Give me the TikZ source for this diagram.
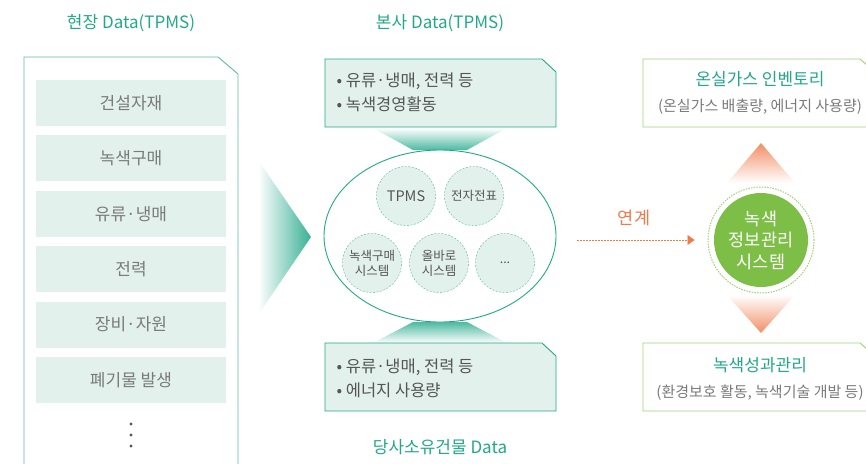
\documentclass[tikz,border=0pt]{standalone}
\usepackage{fontspec}
\setmainfont{Noto Sans CJK KR}
\usetikzlibrary{shapes,shapes.geometric,calc,positioning,arrows.meta}
\definecolor{tealc}{HTML}{22A889}
\definecolor{pale}{HTML}{E3F1EC}
\definecolor{greyt}{HTML}{7A7A7A}
\definecolor{darkt}{HTML}{555555}
\definecolor{grn}{HTML}{7DBE46}
\definecolor{grnline}{HTML}{9CD275}
\definecolor{orng}{HTML}{F07A4A}

\begin{document}
\begin{tikzpicture}
[x=1pt,y=-1pt,
 ttl/.style={text=tealc,font=\fontsize{17}{20}\selectfont},
 item/.style={fill=pale,minimum width=190pt,minimum height=46pt,inner sep=0pt,
	text=greyt,font=\fontsize{17}{20}\selectfont},
 sys/.style={circle,draw=tealc!80,dash pattern=on 2pt off 1.5pt,fill=pale,
	minimum size=59pt,inner sep=0pt,align=center,text=darkt,
	font=\fontsize{12.5}{15}\selectfont},
 note/.style={anchor=north west,align=left,text=darkt,
	font=\fontsize{16.5}{24}\selectfont},
 result/.style={align=center,text=greyt,font=\fontsize{15}{26}\selectfont}]
\useasboundingbox (0,0) rectangle (866,463);

% site data
\node[ttl] (site) at (131,23) {현장 Data(TPMS)};
\draw[tealc!75,line width=0.9pt] (24,470) -- (24,57) -- (218,57) -- (238,74) -- (238,470);
\foreach \t [count=\i] in {건설자재,녹색구매,유류·냉매,전력,장비·자원,폐기물 발생}
	\node[item] (it\i) at (131,{103+55.4*(\i-1)}) {\t};
\foreach \y in {424,435,446} \fill[darkt] (131,\y) circle (1.6pt);
\shade[left color=white,right color=tealc!90] (258,160) -- (311,237) -- (258,315) -- cycle;

% head office data
\node[ttl] (hq) at (440,23) {본사 Data(TPMS)};
\draw[tealc,fill=pale,line width=0.9pt] (325,59) -- (542,59) -- (556,72) -- (556,127) -- (325,127) -- cycle;
\node[note] (n1) at (333,69) {• 유류·냉매, 전력 등\\• 녹색경영활동};
\shade[top color=white,bottom color=tealc!80] (373,128) -- (507,128) -- (467,150) -- (413,150) -- cycle;
\node[draw=tealc,line width=0.9pt,ellipse,minimum width=232pt,minimum height=172pt] (db) at (440,236) {};
\node[sys,font=\fontsize{14.5}{15}\selectfont] (tpms) at (406,196) {TPMS};
\node[sys] (slip) at (474,196) {전자전표};
\node[sys] (buy) at (372,263) {녹색구매\\시스템};
\node[sys] (allb) at (439,263) {올바로\\시스템};
\node[sys] (etc) at (505,263) {...};
\shade[top color=tealc!80,bottom color=white] (413,322) -- (467,322) -- (507,343) -- (373,343) -- cycle;
\draw[tealc,fill=pale,line width=0.9pt] (325,343) -- (542,343) -- (556,356) -- (556,411) -- (325,411) -- cycle;
\node[note] (n2) at (333,355) {• 유류·냉매, 전력 등\\• 에너지 사용량};
\node[ttl] (bldg) at (440,447) {당사소유건물 Data};

% green information system
\node[circle,fill=grn,minimum size=94pt,inner sep=0pt,align=center,text=white,
	font=\fontsize{17.5}{21.5}\selectfont] (gims) at (761,240) {녹색\\정보관리\\시스템};
\node[circle,draw=grnline,dash pattern=on 1.5pt off 1.2pt,line width=1pt,minimum size=106pt] (ring) at (gims) {};
\coordinate (src) at (577,240);
\draw[orng,line width=0.8pt,dash pattern=on 2pt off 1pt,-{Triangle[length=7pt,width=10pt]},shorten >=13pt] (src) -- (ring.west);
\node[text=orng,font=\fontsize{17.5}{20}\selectfont] (link) at (634,218) {연계};
\shade[top color=orng!85,bottom color=white] (761,143) -- (795,183) -- (727,183) -- cycle;
\shade[top color=white,bottom color=orng!85] (727,295) -- (795,295) -- (761,333) -- cycle;

% outputs
\draw[grnline,line width=0.9pt] (643,59) -- (860,59) -- (868,66) -- (868,127) -- (643,127) -- cycle;
\node[result] (inv) at (760,93) {\textcolor{tealc}{\fontsize{17}{20}\selectfont 온실가스 인벤토리}\\(온실가스 배출량, 에너지 사용량)};
\draw[grnline,line width=0.9pt] (643,343) -- (860,343) -- (868,350) -- (868,411) -- (643,411) -- cycle;
\node[result] (perf) at (760,379) {\textcolor{tealc}{\fontsize{17}{20}\selectfont 녹색성과관리}\\(환경보호 활동, 녹색기술 개발 등)};
\end{tikzpicture}
\end{document}
